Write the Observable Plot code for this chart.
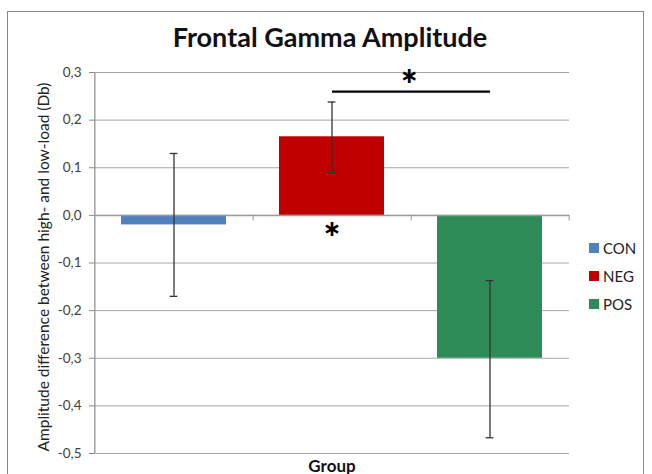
<!DOCTYPE html>
<html>
<head>
<meta charset="utf-8">
<script src="https://cdn.jsdelivr.net/npm/d3@7"></script>
<script src="https://cdn.jsdelivr.net/npm/@observablehq/plot@0.6"></script>
<style>
  html, body { margin: 0; padding: 0; background: #fff; }
  #wrap { position: relative; width: 652px; height: 474px; overflow: hidden; font-family: Lato, "Open Sans", sans-serif; }
  #border { position: absolute; left: 7px; top: 11px; width: 637px; height: 480px; border: 1.5px solid #8a8a8a; box-sizing: border-box; }
  #legend { position: absolute; left: 589px; top: 234px; font-size: 15px; color: #222; }
  #legend .item { display: flex; align-items: center; height: 28px; }
  #legend .sw { width: 10px; height: 10px; margin-right: 4px; }
  svg { position: absolute; left: 0; top: 0; }
</style>
</head>
<body>
<div id="wrap">
  <div id="border"></div>
  <div id="legend"></div>
</div>
<script>
const groups = ["CON", "NEG", "POS"];
const means = [-0.02, 0.165, -0.30];
const errLow = [-0.17, 0.09, -0.467];
const errHigh = [0.13, 0.238, -0.137];
const colors = ["#4f81bd", "#c00000", "#2e8b57"];
const yTicks = [-0.5, -0.4, -0.3, -0.2, -0.1, 0, 0.1, 0.2, 0.3];
const title = "Frontal Gamma Amplitude";
const yLabel = "Amplitude difference between high- and low-load (Db)";
const xLabel = "Group";
const sigPair = ["NEG", "POS"];
const sigLevel = 0.26;
const sigStarLevel = 0.26;
const belowStar = {group: "NEG", y: -0.01};

const data = groups.map((g, i) => ({group: g, mean: means[i], lo: errLow[i], hi: errHigh[i]}));

const W = 652, H = 474, mL = 94, mR = 83, mT = 72, mB = 21;
const step = (W - mL - mR) / groups.length;
const fmt = d => d.toFixed(1).replace(".", ",");
const capInset = step * 0.665 / 2 - 4;

const chart = Plot.plot({
  width: W, height: H,
  marginLeft: mL, marginRight: mR, marginTop: mT, marginBottom: mB,
  style: {fontFamily: "Lato, 'Open Sans', sans-serif", background: "transparent"},
  x: {domain: groups, paddingInner: 0.335, paddingOuter: 0.1675, axis: null},
  y: {domain: [-0.5, 0.3], axis: null},
  color: {domain: groups, range: colors},
  marks: [
    Plot.gridY(yTicks, {stroke: "#a6a6a6", strokeOpacity: 1, strokeWidth: 1}),
    Plot.axisY(yTicks, {tickFormat: fmt, tickSize: 5, stroke: "#8a8a8a", fontSize: 13.5, fill: "#404040", tickPadding: 8, label: null}),
    Plot.ruleX([0], {x: () => groups[0], dx: -step / 2, y1: -0.5, y2: 0.3, stroke: "#8a8a8a", strokeWidth: 1.2}),
    Plot.barY(data, {x: "group", y: "mean", fill: "group"}),
    Plot.ruleY([0], {stroke: "#9a9a9a", strokeWidth: 1.5}),
    Plot.ruleX(groups, {x: d => d, dx: step / 2, y1: 0, y2: -0.012, stroke: "#9a9a9a"}),
    Plot.ruleX(data, {x: "group", y1: "lo", y2: "hi", stroke: "#333", strokeWidth: 1.3}),
    Plot.tickY(data, {x: "group", y: "lo", stroke: "#333", strokeWidth: 1.3, insetLeft: capInset, insetRight: capInset}),
    Plot.tickY(data, {x: "group", y: "hi", stroke: "#333", strokeWidth: 1.3, insetLeft: capInset, insetRight: capInset}),
    Plot.link([sigPair], {x1: d => d[0], x2: d => d[1], y1: sigLevel, y2: sigLevel, stroke: "#000", strokeWidth: 2.2}),
    Plot.text([sigPair], {x: d => d[0], y: sigStarLevel, dx: step / 2 - 2, dy: -4, text: () => "*", fontSize: 40, fontWeight: "900", fill: "#000"}),
    Plot.text([belowStar], {x: "group", y: "y", dy: 20, text: () => "*", fontSize: 40, fontWeight: "900", fill: "#000"}),
    Plot.text([title], {frameAnchor: "top", lineAnchor: "middle", dy: -34, text: d => d, fontSize: 27, fontWeight: "bold", fill: "#111", dx: -2}),
    Plot.text([yLabel], {frameAnchor: "left", textAnchor: "middle", lineAnchor: "middle", rotate: -90, dx: -50, dy: 4, text: d => d, fontSize: 15.5, fill: "#222"}),
    Plot.text([xLabel], {frameAnchor: "bottom", dy: 18, dx: 0, text: d => d, fontSize: 17, fontWeight: "bold", fill: "#111"})
  ]
});
document.getElementById("wrap").appendChild(chart);

const legend = document.getElementById("legend");
groups.forEach((g, i) => {
  const item = document.createElement("div");
  item.className = "item";
  const sw = document.createElement("div");
  sw.className = "sw";
  sw.style.background = colors[i];
  const t = document.createElement("span");
  t.textContent = g;
  item.appendChild(sw);
  item.appendChild(t);
  legend.appendChild(item);
});
</script>
</body>
</html>
